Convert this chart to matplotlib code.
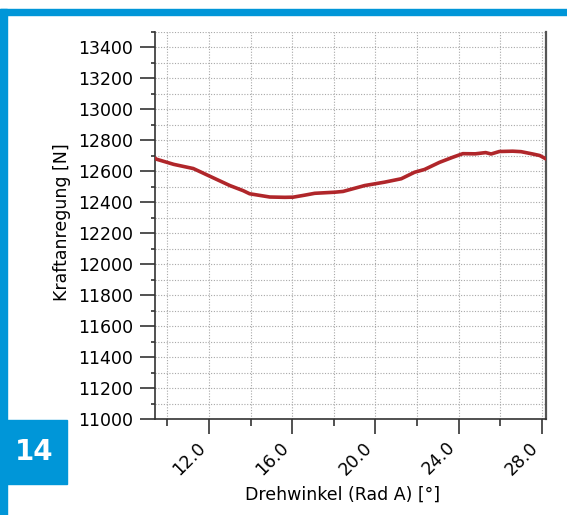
import matplotlib.pyplot as plt
from matplotlib.patches import Rectangle
from matplotlib.ticker import MultipleLocator, FormatStrFormatter

# Drehwinkel [deg] vs. Kraftanregung [N]
winkel = [9.40, 9.48, 10.30, 11.24, 11.45, 12.36, 13.00, 13.64, 13.95, 14.92,
          15.64, 16.04, 16.60, 17.08, 18.04, 18.44, 19.48, 20.44, 21.24, 21.88,
          22.36, 23.08, 23.70, 24.20, 24.80, 25.30, 25.56, 25.96, 26.60, 27.00,
          27.56, 27.90, 28.20]
kraft = [12685, 12678, 12645, 12618, 12605, 12548, 12508, 12475, 12455, 12434,
         12432, 12433, 12446, 12458, 12465, 12470, 12508, 12530, 12552, 12594,
         12612, 12658, 12690, 12714, 12713, 12721, 12712, 12728, 12730, 12727,
         12712, 12702, 12680]

x_limits = (9.4, 28.2)
y_limits = (11000, 13500)
badge_text = "14"
x_title = "Drehwinkel (Rad A) [°]"
y_title = "Kraftanregung [N]"

blue = "#0096D8"
line_red = "#B0262A"

plt.rcParams['font.family'] = ['DejaVu Sans']

fig = plt.figure(figsize=(5.67, 5.15), dpi=100)

# blue frame: top bar and left bar
fig.patches.append(Rectangle((0, 1 - 15 / 515), 1, 6 / 515, transform=fig.transFigure,
                             color=blue, zorder=0))
fig.patches.append(Rectangle((0, 0), 7 / 567, 1 - 9 / 515, transform=fig.transFigure,
                             color=blue, zorder=0))

ax = fig.add_axes([155 / 567, 96 / 515, 391 / 567, 387 / 515])
ax.plot(winkel, kraft, color=line_red, lw=2.6, solid_capstyle='round', zorder=3)

ax.set_xlim(*x_limits)
ax.set_ylim(*y_limits)

ax.xaxis.set_major_locator(MultipleLocator(4))
ax.xaxis.set_minor_locator(MultipleLocator(2))
ax.yaxis.set_major_locator(MultipleLocator(200))
ax.yaxis.set_minor_locator(MultipleLocator(100))
ax.xaxis.set_major_formatter(FormatStrFormatter('%.1f'))

ax.grid(which='both', axis='both', color='#a8a8a8', ls=(0, (1, 1.5)), lw=0.8)
ax.set_axisbelow(True)

ax.spines['top'].set_visible(False)
ax.spines['right'].set_linestyle((0, (2, 1)))
ax.spines['right'].set_color('#555555')
ax.spines['right'].set_linewidth(1.6)
for side in ('left', 'bottom'):
    ax.spines[side].set_color('#333333')
    ax.spines[side].set_linewidth(1.2)

ax.tick_params(axis='y', which='major', direction='out', length=11, width=1.2,
               color='#333333', labelsize=12.5, pad=5)
ax.tick_params(axis='y', which='minor', direction='out', length=3, width=1.2,
               color='#333333')
ax.tick_params(axis='x', which='major', direction='out', length=11, width=1.2,
               color='#333333', labelsize=12.5, pad=3)
ax.tick_params(axis='x', which='minor', direction='out', length=5, width=1.2,
               color='#333333')
for lbl in ax.get_xticklabels():
    lbl.set_rotation(45)
    lbl.set_ha('right')

fig.text(343 / 567, 1 - 495 / 515, x_title, ha='center', va='center', fontsize=12.5)
fig.text(62 / 567, 1 - 222 / 515, y_title, ha='center', va='center', fontsize=12.5,
         rotation=90)

# figure number badge
fig.patches.append(Rectangle((0, 31 / 515), 67 / 567, 64 / 515, transform=fig.transFigure,
                             color=blue, zorder=1))
fig.text(34 / 567, 1 - 452 / 515, badge_text, ha='center', va='center', fontsize=20,
         fontweight='bold', color='white')

fig.savefig('out.png', dpi=100)
